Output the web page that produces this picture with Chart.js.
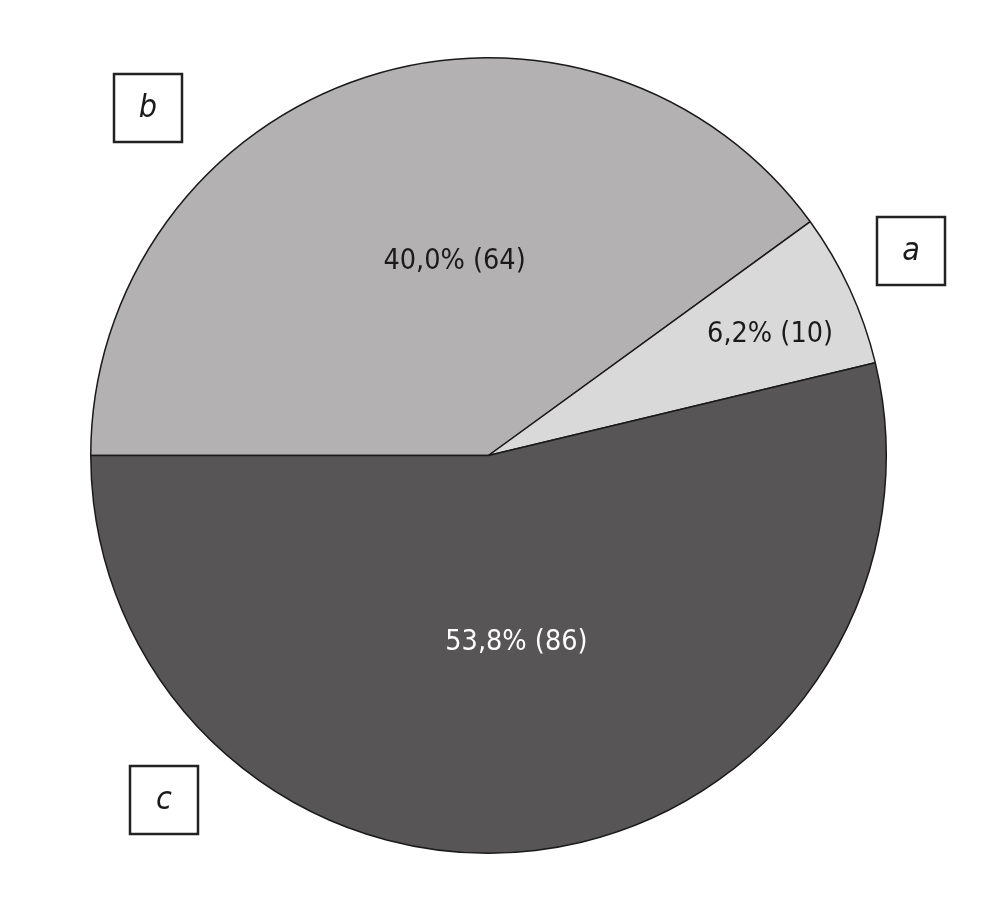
<!DOCTYPE html>
<html>
<head>
<meta charset="utf-8">
<script src="https://cdn.jsdelivr.net/npm/chart.js@4/dist/chart.umd.min.js"></script>
<style>
  body { margin: 0; background: #fff; }
  #wrap { width: 988px; height: 904px; position: relative; }
</style>
</head>
<body>
<div id="wrap"><canvas id="grafico_pizza"></canvas></div>
<script>
// --=| dados do gráfico (ordem horária a partir das 9 horas)
let categorias = ["b", "a", "c"];
let valores = [64, 10, 86];
let rotulos = ["40,0% (64)", "6,2% (10)", "53,8% (86)"];
let cores = ["#b3b1b2", "#d9d9d9", "#575556"];
let coresTexto = ["#1a1a1a", "#1a1a1a", "#ffffff"];

// posição do rótulo: fração do ângulo da fatia e fração do raio
let angRotulo = [0.556, 0.57, 0.491];
let distRotulo = [0.495, 0.77, 0.475];
let caixas = {
  b: [148, 108],
  a: [911, 251],
  c: [164, 800],
};

const fonte = "'DejaVu Sans Condensed', 'Liberation Sans Narrow', sans-serif";

const rotulosPlugin = {
  id: "rotulos",
  afterDatasetsDraw(chart) {
    const ctx = chart.ctx;
    const arcos = chart.getDatasetMeta(0).data;
    ctx.save();
    ctx.textAlign = "center";
    ctx.textBaseline = "middle";
    ctx.font = "28.5px " + fonte;
    arcos.forEach((arco, i) => {
      const ang = arco.startAngle + (arco.endAngle - arco.startAngle) * angRotulo[i];
      const r = arco.outerRadius * distRotulo[i];
      ctx.fillStyle = coresTexto[i];
      ctx.fillText(rotulos[i], arco.x + Math.cos(ang) * r, arco.y + Math.sin(ang) * r);
    });

    // caixas com as letras
    ctx.font = "italic 32px " + fonte;
    ctx.lineWidth = 2.5;
    ctx.strokeStyle = "#222";
    categorias.forEach((cat) => {
      const [cx, cy] = caixas[cat];
      ctx.fillStyle = "#fff";
      ctx.fillRect(cx - 34, cy - 34, 68, 68);
      ctx.strokeRect(cx - 34, cy - 34, 68, 68);
      ctx.fillStyle = "#1a1a1a";
      ctx.fillText(cat, cx, cy + 1);
    });
    ctx.restore();
  },
};

new Chart(document.getElementById("grafico_pizza"), {
  type: "pie",
  data: {
    labels: categorias,
    datasets: [
      {
        data: valores,
        backgroundColor: cores,
        borderColor: "#1a1a1a",
        borderWidth: 1.5,
      },
    ],
  },
  options: {
    responsive: true,
    maintainAspectRatio: false,
    animation: false,
    rotation: 270,
    layout: {
      padding: { left: 90, right: 101, top: 57, bottom: 50 },
    },
    plugins: {
      legend: { display: false },
      tooltip: { enabled: false },
    },
  },
  plugins: [rotulosPlugin],
});
</script>
</body>
</html>
